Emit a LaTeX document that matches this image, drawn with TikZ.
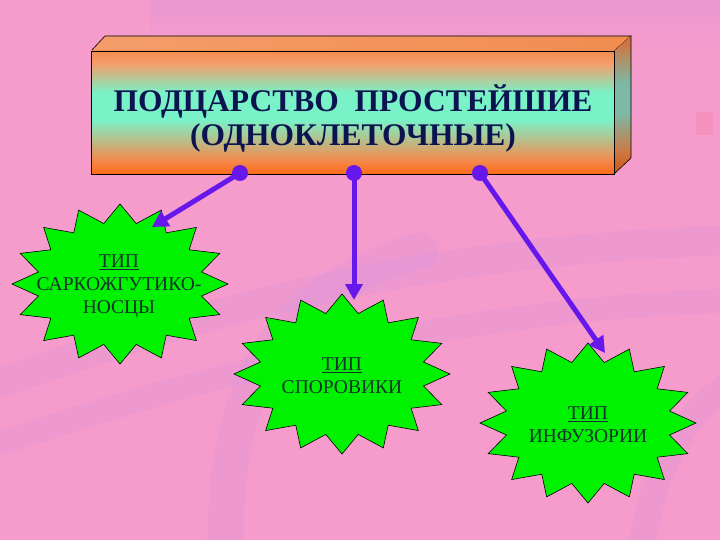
\documentclass[tikz,border=0pt]{standalone}
\usepackage{fontspec}
\setmainfont{Liberation Serif}
\usetikzlibrary{arrows.meta}
\definecolor{bgpink}{RGB}{246,156,204}
\definecolor{lav}{RGB}{214,146,222}
\definecolor{violet}{RGB}{102,24,236}
\definecolor{starg}{RGB}{0,242,0}
\definecolor{titlec}{RGB}{12,20,80}
\definecolor{stxt}{RGB}{20,50,46}
\definecolor{boxor}{RGB}{242,140,80}
\definecolor{boxbot}{RGB}{255,104,24}
\definecolor{boxmid}{RGB}{122,242,200}
\pgfdeclareverticalshading{frontshade}{100bp}{color(0bp)=(boxbot); color(25bp)=(boxbot); color(31bp)=(boxor); color(47bp)=(boxmid); color(58bp)=(boxmid); color(70bp)=(boxor!85!white); color(75bp)=(boxor); color(100bp)=(boxor)}
\pgfdeclareverticalshading{sideshade}{100bp}{color(0bp)=(boxbot!80!black); color(25bp)=(boxbot!80!black); color(33bp)=(boxor!85!black); color(47bp)=(boxmid!50!gray); color(58bp)=(boxmid!50!gray); color(72bp)=(boxor!85!black); color(100bp)=(boxor!85!black)}
\tikzset{
  starshape/.style={fill=starg,draw=black,line width=0.6pt,line join=miter},
  startext/.style={align=center,text=stxt,font=\fontsize{19.5}{23}\selectfont,inner sep=0pt},
  conn/.style={draw=violet,line width=5pt,-{Triangle[width=17pt,length=16pt]}},
  dot/.style={fill=violet},
  band/.style={draw=lav,line cap=round,opacity=0.25}
}
\newcommand{\starburst}[1]{%
  \begin{scope}[shift={#1},xscale=108,yscale=80]
    \path[starshape] (0:1)
      \foreach \k in {0,...,15} { -- ({\k*22.5+11.25}:0.77) -- ({(\k+1)*22.5}:1) } -- cycle;
  \end{scope}}
\begin{document}
\begin{tikzpicture}[x=1pt,y=-1pt]
\useasboundingbox (0,0) rectangle (720,540);
% background
\fill[bgpink] (0,0) rectangle (720,540);
\shade[top color=lav!70!bgpink,bottom color=bgpink,opacity=0.5] (150,0) rectangle (720,50);
\draw[band,line width=30pt] (-20,390) .. controls (150,330) and (380,250) .. (740,240);
\draw[band,line width=24pt] (-20,450) .. controls (160,390) and (420,310) .. (740,300);
\draw[band,line width=36pt] (225,560) .. controls (225,420) and (250,300) .. (420,250);
\draw[band,line width=26pt] (640,560) .. controls (650,470) and (690,400) .. (740,380);
\fill[bgpink!85!red,opacity=0.5] (696,112) rectangle (713,135);
% box
\shade[left color=boxor!85!white,right color=boxor] (91,51) -- (105,36) -- (631,36) -- (614,51) -- cycle;
\draw[black,line width=0.6pt] (91,51) -- (105,36) -- (631,36) -- (614,51);
\shade[shading=sideshade] (614,51) -- (631,36) -- (631,158) -- (614,174) -- cycle;
\draw[black,line width=0.6pt] (631,36) -- (631,158) -- (614,174);
\shade[shading=frontshade] (91,51) rectangle (614,174);
\draw[black,line width=0.6pt] (91,51) rectangle (614,174);
\node[align=center,text=titlec,font=\bfseries\fontsize{31.5}{34}\selectfont,inner sep=0pt] (title) at (353,118) {ПОДЦАРСТВО\ \ ПРОСТЕЙШИЕ\\(ОДНОКЛЕТОЧНЫЕ)};
% stars
\starburst{(120,284)}
\starburst{(342,374)}
\starburst{(588,423)}
\node[startext] (s1) at (119,286) {\underline{ТИП}\\САРКОЖГУТИКО-\\НОСЦЫ};
\node[startext] (s2) at (342,376) {\underline{ТИП}\\СПОРОВИКИ};
\node[startext] (s3) at (588,425) {\underline{ТИП}\\ИНФУЗОРИИ};
% connectors
\coordinate (d1) at (240,173);
\coordinate (d2) at (354,173);
\coordinate (d3) at (480,173);
\coordinate (t1) at (152,227);
\coordinate (t2) at (354,300);
\coordinate (t3) at (605,353);
\draw[conn] (d1) -- (t1);
\draw[conn] (d2) -- (t2);
\draw[conn] (d3) -- (t3);
\fill[dot] (d1) circle (8);
\fill[dot] (d2) circle (8);
\fill[dot] (d3) circle (8);
\end{tikzpicture}
\end{document}
